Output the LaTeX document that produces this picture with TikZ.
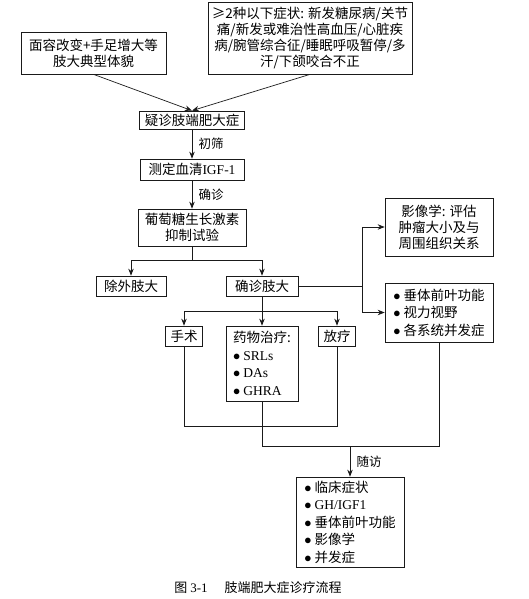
\documentclass[tikz,border=0pt]{standalone}
\usepackage{fontspec}
\setmainfont{Noto Sans CJK SC}
\newfontfamily\latfont{Liberation Serif}
\usetikzlibrary{arrows.meta,positioning,calc}
\definecolor{ink}{HTML}{1A1A1A}
\newcommand{\lat}[1]{{\latfont #1}}
\newcommand{\bul}{$\bullet$\ }

\begin{document}
\begin{tikzpicture}[x=1pt, y=-1pt,
  box/.style={draw=ink, line width=0.7pt, inner xsep=4pt, inner ysep=2pt, align=center,
              font=\fontsize{13.5}{16}\selectfont},
  list/.style={box, align=left, font=\fontsize{13.5}{17.5}\selectfont},
  lbl/.style={font=\fontsize{12.5}{14}\selectfont, right=3pt},
  arr/.style={-{Stealth[length=7pt,width=5.5pt]}, draw=ink, line width=0.7pt},
  ln/.style={draw=ink, line width=0.7pt}]
\useasboundingbox (0,0) rectangle (529,599);

% top: signs and symptoms
\node[box, minimum width=145pt, minimum height=42pt] (look) at (93.5,53) {面容改变+手足增大等\\肢大典型体貌};
\node[box, minimum width=202pt, minimum height=72pt] (symp) at (310,38) {≥2种以下症状: 新发糖尿病/关节\\痛/新发或难治性高血压/心脏疾\\病/腕管综合征/睡眠呼吸暂停/多\\汗/下颌咬合不正};

% main column
\node[box, minimum width=105pt, minimum height=18pt] (sus) at (192,120) {疑诊肢端肥大症};
\node[box, minimum width=104pt, minimum height=21pt] (igf) at (192,169.5) {测定血清\lat{IGF-1}};
\node[box, minimum width=108pt, minimum height=37pt] (ogtt) at (192,227.5) {葡萄糖生长激素\\抑制试验};
\node[box, minimum width=70pt, minimum height=20pt] (excl) at (131,286) {除外肢大};
\node[box, minimum width=72pt, minimum height=20pt] (conf) at (262,286) {确诊肢大};

% assessment
\node[box, minimum width=108pt, minimum height=58pt] (img) at (439,227) {影像学: 评估\\肿瘤大小及与\\周围组织关系};
\node[list, minimum width=108pt, minimum height=59pt] (eval) at (439,312.5) {\bul 垂体前叶功能\\\bul 视力视野\\\bul 各系统并发症};

% treatment
\node[box, minimum width=37pt, minimum height=20pt] (surg) at (184,336) {手术};
\node[list, minimum width=72pt, minimum height=75pt] (drug) at (262,363.5) {药物治疗:\\\bul\lat{SRLs}\\\bul\lat{DAs}\\\bul\lat{GHRA}};
\node[box, minimum width=37pt, minimum height=20pt] (radio) at (337,336) {放疗};

% follow-up
\node[list, minimum width=108pt, minimum height=90pt] (fu) at (350,522) {\bul 临床症状\\\bul\lat{GH/IGF1}\\\bul 垂体前叶功能\\\bul 影像学\\\bul 并发症};

\node[font=\fontsize{13}{15}\selectfont] (cap) at (258,588) {图 \lat{3-1}\hspace{1.3em}肢端肥大症诊疗流程};

\coordinate (br1) at ($(ogtt.south)+(0,14)$);
\coordinate (br2) at (362,286);
\coordinate (br3) at (262,311);
\coordinate (j1) at (337,426);
\coordinate (j2) at (439,446);
\coordinate (j3) at (350,446);

\draw[arr] (look.south) -- (sus.north);
\draw[arr] (symp.south) -- (sus.north);
\draw[arr] (sus) -- node[lbl]{初筛} (igf);
\draw[arr] (igf) -- node[lbl]{确诊} (ogtt);
\draw[ln] (ogtt.south) -- (br1);
\draw[arr] (br1) -| (excl.north);
\draw[arr] (br1) -| (conf.north);
\draw[ln] (conf.east) -- (br2);
\draw[arr] (br2) |- (img.west);
\draw[arr] (br2) |- (eval.west);
\draw[ln] (conf.south) -- (br3);
\draw[arr] (br3) -| (surg.north);
\draw[arr] (br3) -- (drug.north);
\draw[arr] (br3) -| (radio.north);
\draw[ln] (surg.south) |- (j1) -- (radio.south);
\draw[ln] (drug.south) |- (j2) -- (eval.south);
\draw[arr] (j3) -- node[lbl]{随访} (fu.north);
\end{tikzpicture}
\end{document}
